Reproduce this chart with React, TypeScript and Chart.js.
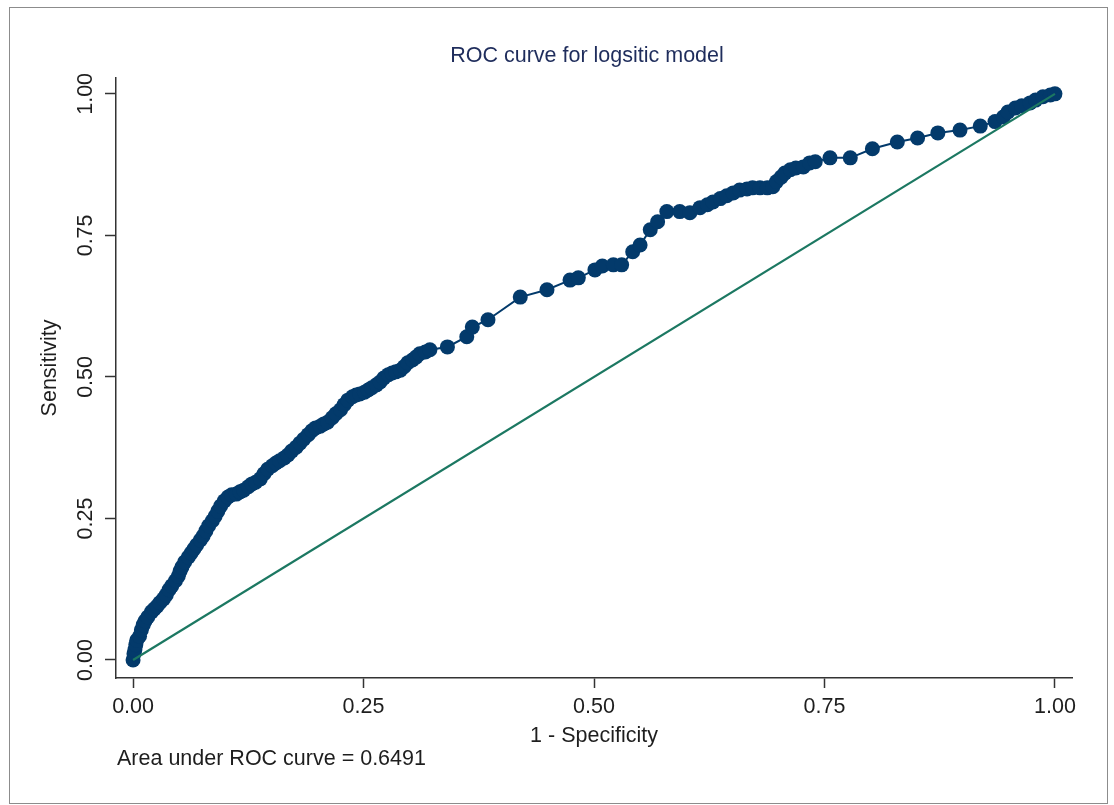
import React, { useEffect, useRef } from 'react';
import { Chart, registerables } from 'chart.js';

Chart.register(...registerables);

// ROC curve: 1 - specificity (false positive rate) and sensitivity (true positive rate)
const fpr = [
  0, 0.001, 0.002, 0.003, 0.004, 0.007, 0.009, 0.011, 0.013, 0.016,
  0.020, 0.023, 0.026, 0.029, 0.033, 0.036, 0.039, 0.042, 0.046, 0.049,
  0.051, 0.053, 0.056, 0.060, 0.063, 0.066, 0.069, 0.073, 0.076, 0.079,
  0.082, 0.086, 0.089, 0.092, 0.095, 0.099, 0.103, 0.107, 0.112, 0.116,
  0.120, 0.125, 0.129, 0.133, 0.138, 0.142, 0.146, 0.151, 0.155, 0.159,
  0.164, 0.168, 0.172, 0.177, 0.181, 0.185, 0.190, 0.194, 0.198, 0.203,
  0.207, 0.211, 0.216, 0.220, 0.225, 0.229, 0.233, 0.238, 0.242, 0.246,
  0.251, 0.255, 0.259, 0.264, 0.268, 0.272, 0.277, 0.281, 0.285, 0.290,
  0.294, 0.298, 0.303, 0.307, 0.311, 0.317, 0.322, 0.341, 0.362, 0.368,
  0.385, 0.420, 0.449, 0.474, 0.483, 0.501, 0.509, 0.521, 0.530, 0.542,
  0.550, 0.561, 0.569, 0.579, 0.593, 0.604, 0.615, 0.623, 0.629, 0.637,
  0.644, 0.651, 0.658, 0.666, 0.672, 0.680, 0.688, 0.694, 0.698, 0.703,
  0.707, 0.713, 0.719, 0.727, 0.734, 0.740, 0.756, 0.778, 0.802, 0.829,
  0.851, 0.873, 0.897, 0.919, 0.935, 0.944, 0.949, 0.957, 0.964, 0.973,
  0.979, 0.987, 0.995, 1.000,
];
const tpr = [
  0, 0.011, 0.018, 0.027, 0.035, 0.042, 0.053, 0.062, 0.069, 0.076,
  0.085, 0.090, 0.095, 0.101, 0.108, 0.115, 0.124, 0.131, 0.140, 0.148,
  0.157, 0.164, 0.173, 0.182, 0.189, 0.196, 0.203, 0.212, 0.219, 0.228,
  0.237, 0.246, 0.254, 0.263, 0.272, 0.281, 0.288, 0.292, 0.293, 0.297,
  0.300, 0.306, 0.311, 0.314, 0.320, 0.329, 0.337, 0.343, 0.348, 0.352,
  0.357, 0.362, 0.369, 0.376, 0.383, 0.390, 0.398, 0.405, 0.410, 0.413,
  0.417, 0.420, 0.428, 0.435, 0.442, 0.451, 0.459, 0.465, 0.468, 0.470,
  0.473, 0.477, 0.481, 0.486, 0.491, 0.498, 0.504, 0.507, 0.509, 0.512,
  0.518, 0.525, 0.530, 0.535, 0.541, 0.544, 0.548, 0.553, 0.571, 0.588,
  0.601, 0.641, 0.654, 0.671, 0.675, 0.689, 0.696, 0.698, 0.698, 0.721,
  0.733, 0.760, 0.774, 0.792, 0.792, 0.790, 0.799, 0.804, 0.809, 0.815,
  0.820, 0.825, 0.830, 0.832, 0.834, 0.834, 0.834, 0.836, 0.845, 0.853,
  0.860, 0.866, 0.869, 0.871, 0.878, 0.880, 0.887, 0.887, 0.903, 0.915,
  0.922, 0.931, 0.936, 0.943, 0.951, 0.959, 0.968, 0.975, 0.979, 0.984,
  0.989, 0.995, 0.998, 1.000,
];

// reference (chance) line
const refX = [0, 1];
const refY = [0, 1];

const xTickValues = [0, 0.25, 0.5, 0.75, 1];
const yTickValues = [0, 0.25, 0.5, 0.75, 1];
const xTickLabels = ['0.00', '0.25', '0.50', '0.75', '1.00'];
const yTickLabels = ['0.00', '0.25', '0.50', '0.75', '1.00'];

const chartTitle = 'ROC curve for logsitic model';
const xAxisTitle = '1 - Specificity';
const yAxisTitle = 'Sensitivity';
const aucNote = 'Area under ROC curve = 0.6491';

const FONT = '"Liberation Sans", Arial, sans-serif';
const FONT_SIZE = 21.5;
const NAVY = '#033a6b';
const GREEN = '#1c7862';
const TEXT = '#1e1e1e';
const TITLE_COLOR = '#1f2d5c';

const textPlugin = {
  id: 'stataText',
  afterDraw(chart: any) {
    const { ctx } = chart;
    const yScale = chart.scales.y;
    ctx.save();
    ctx.font = `${FONT_SIZE}px ${FONT}`;

    // title
    ctx.fillStyle = TITLE_COLOR;
    ctx.textAlign = 'center';
    ctx.textBaseline = 'alphabetic';
    ctx.fillText(chartTitle, 587, 62);

    // x axis title
    ctx.fillStyle = TEXT;
    ctx.fillText(xAxisTitle, 594, 742);

    // auc note
    ctx.textAlign = 'left';
    ctx.fillText(aucNote, 117, 765);

    // y tick labels rotated
    ctx.textAlign = 'center';
    ctx.textBaseline = 'middle';
    yTickValues.forEach((v, i) => {
      const py = yScale.getPixelForValue(v);
      ctx.save();
      ctx.translate(86, py);
      ctx.rotate(-Math.PI / 2);
      ctx.fillText(yTickLabels[i], 0, 0);
      ctx.restore();
    });

    // y axis title
    ctx.save();
    ctx.translate(50, 368);
    ctx.rotate(-Math.PI / 2);
    ctx.fillText(yAxisTitle, 0, 0);
    ctx.restore();

    ctx.restore();
  },
};

export default function App() {
  const canvasRef = useRef<HTMLCanvasElement | null>(null);

  useEffect(() => {
    const canvas = canvasRef.current;
    if (!canvas) return;
    const rocData = fpr.map((x, i) => ({ x, y: tpr[i] }));
    const refData = refX.map((x, i) => ({ x, y: refY[i] }));

    const chart = new Chart(canvas, {
      type: 'line',
      data: {
        datasets: [
          {
            label: 'Reference',
            data: refData,
            borderColor: GREEN,
            borderWidth: 2.2,
            pointRadius: 0,
            fill: false,
            tension: 0,
            order: 0,
          },
          {
            label: 'ROC',
            data: rocData,
            borderColor: NAVY,
            backgroundColor: NAVY,
            borderWidth: 2,
            pointRadius: 7.5,
            pointBorderWidth: 0,
            pointBackgroundColor: NAVY,
            fill: false,
            tension: 0,
            order: 1,
          },
        ],
      },
      options: {
        responsive: false,
        animation: false,
        devicePixelRatio: 1,
        layout: { padding: { top: 78, left: 0, right: 42, bottom: 0 } },
        plugins: {
          legend: { display: false },
          title: { display: false },
          tooltip: { enabled: false },
        },
        scales: {
          x: {
            type: 'linear',
            min: -0.0185,
            max: 1.0185,
            afterBuildTicks: (scale: any) => {
              scale.ticks = xTickValues.map((v) => ({ value: v }));
            },
            afterFit: (scale: any) => {
              scale.height = 127;
            },
            grid: {
              drawOnChartArea: false,
              drawTicks: true,
              tickLength: 10,
              tickWidth: 1.5,
              color: '#333333',
            },
            border: { display: true, color: '#333333', width: 1.5 },
            ticks: {
              color: TEXT,
              font: { family: FONT, size: FONT_SIZE },
              padding: 6,
              maxRotation: 0,
              minRotation: 0,
              callback: (v: any) => {
                const i = xTickValues.indexOf(Number(v));
                return i >= 0 ? xTickLabels[i] : '';
              },
            },
          },
          y: {
            type: 'linear',
            min: -0.0318,
            max: 1.028,
            afterBuildTicks: (scale: any) => {
              scale.ticks = yTickValues.map((v) => ({ value: v }));
            },
            afterFit: (scale: any) => {
              scale.width = 116;
            },
            grid: {
              drawOnChartArea: false,
              drawTicks: true,
              tickLength: 11,
              tickWidth: 1.5,
              color: '#333333',
            },
            border: { display: true, color: '#333333', width: 1.5 },
            ticks: { display: false },
          },
        },
      },
      plugins: [textPlugin],
    });

    return () => {
      chart.destroy();
    };
  }, []);

  return (
    <div style={{ position: 'absolute', left: 0, top: 0, width: 1114, height: 805, background: '#ffffff' }}>
      <div
        style={{
          position: 'absolute',
          left: 9,
          top: 7,
          width: 1099,
          height: 797,
          border: '1px solid #8c8c8c',
          boxSizing: 'border-box',
        }}
      />
      <canvas
        ref={canvasRef}
        width={1114}
        height={805}
        style={{ position: 'absolute', left: 0, top: 0, width: 1114, height: 805 }}
      />
    </div>
  );
}
